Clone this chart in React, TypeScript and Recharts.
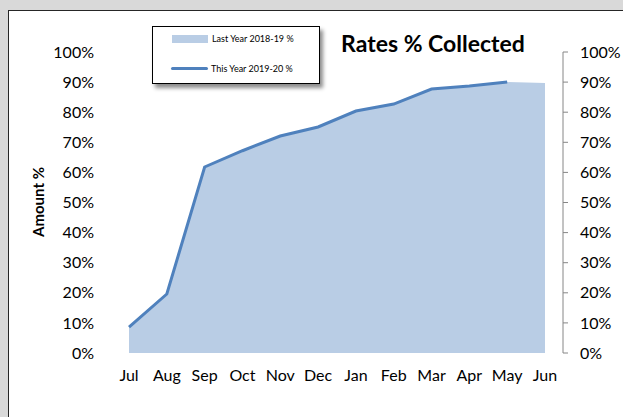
import React from 'react';
import { ComposedChart, Area, Line, XAxis, YAxis } from 'recharts';

const months = ['Jul', 'Aug', 'Sep', 'Oct', 'Nov', 'Dec', 'Jan', 'Feb', 'Mar', 'Apr', 'May', 'Jun'];
const lastYear = [8.4, 19.4, 61.6, 67.0, 71.9, 74.9, 80.2, 82.5, 87.5, 88.5, 90.0, 89.7];
const thisYear: (number | null)[] = [8.6, 19.6, 61.8, 67.2, 72.1, 75.1, 80.4, 82.7, 87.7, 88.7, 90.0, null];
const yTicks = [0, 10, 20, 30, 40, 50, 60, 70, 80, 90, 100];

const LAST_NAME = 'Last Year 2018-19 %';
const THIS_NAME = 'This Year 2019-20 %';
const AREA_FILL = '#b9cde5';
const LINE_COLOR = '#4f81bd';
const FONT = 'Lato, "Liberation Sans", sans-serif';

const data = months.map((m, i) => ({ month: m, last: lastYear[i], current: thisYear[i] }));

const pct = (v: number) => `${v}%`;

const LegendBox = () => (
  <div
    style={{
      position: 'absolute',
      left: 152,
      top: 26,
      width: 166,
      height: 56,
      border: '1px solid #000',
      background: '#fff',
      boxShadow: '3px 4px 4px rgba(0,0,0,0.45)',
      fontFamily: FONT,
      fontSize: 9,
      color: '#000',
      zIndex: 2,
    }}
  >
    <div style={{ position: 'absolute', left: 19, top: 6, display: 'flex', alignItems: 'center' }}>
      <span style={{ display: 'inline-block', width: 36, height: 8, background: AREA_FILL, marginRight: 4 }} />
      <span>{LAST_NAME}</span>
    </div>
    <div style={{ position: 'absolute', left: 18, top: 36, display: 'flex', alignItems: 'center' }}>
      <span style={{ display: 'inline-block', width: 37, height: 3, background: LINE_COLOR, borderRadius: 2, marginRight: 3 }} />
      <span>{THIS_NAME}</span>
    </div>
  </div>
);

export default function App() {
  return (
    <div style={{ position: 'absolute', left: 0, top: 0, width: 623, height: 417, background: '#d9d9d9', overflow: 'hidden' }}>
      <div style={{ position: 'absolute', left: 8, top: 10, width: 700, height: 480, background: '#fff', border: '1.5px solid #262626' }} />
      <div
        style={{
          position: 'absolute',
          left: 300,
          width: 266,
          top: 28,
          textAlign: 'center',
          fontFamily: FONT,
          fontWeight: 'bold',
          fontSize: 23,
          color: '#000',
          lineHeight: '30px',
          zIndex: 2,
        }}
      >
        Rates % Collected
      </div>
      <div style={{ position: 'absolute', left: 0, top: 0, zIndex: 1 }}>
        <ComposedChart width={623} height={417} data={data} margin={{ top: 52, right: 10, bottom: 34, left: 0 }}>
          <XAxis
            dataKey="month"
            scale="point"
            padding={{ left: 0, right: 18 }}
            axisLine={false}
            tickLine={false}
            tickSize={0}
            tickMargin={17}
            height={30}
            interval={0}
            tick={{ fill: '#000', fontSize: 16, fontFamily: FONT }}
          />
          <YAxis
            yAxisId="left"
            orientation="left"
            domain={[0, 100]}
            ticks={yTicks}
            tickFormatter={pct}
            width={129}
            axisLine={false}
            tickLine={false}
            tickSize={0}
            tickMargin={35}
            tick={{ fill: '#000', fontSize: 16, fontFamily: FONT }}
            label={{
              content: () => (
                <text
                  x={38}
                  y={202}
                  transform="rotate(-90, 38, 202)"
                  textAnchor="middle"
                  dominantBaseline="central"
                  fontFamily={FONT}
                  fontWeight="bold"
                  fontSize={15}
                  fill="#000"
                >
                  Amount %
                </text>
              ),
            }}
          />
          <YAxis
            yAxisId="right"
            orientation="right"
            domain={[0, 100]}
            ticks={yTicks}
            tickFormatter={pct}
            width={50}
            axisLine={{ stroke: '#868686', strokeWidth: 1 }}
            tickLine={{ stroke: '#868686', strokeWidth: 1 }}
            tickSize={5}
            tickMargin={12}
            tick={{ fill: '#000', fontSize: 16, fontFamily: FONT, textAnchor: 'start' }}
          />
          <Area
            yAxisId="right"
            type="linear"
            dataKey="last"
            name={LAST_NAME}
            fill={AREA_FILL}
            fillOpacity={1}
            stroke="none"
            isAnimationActive={false}
            dot={false}
            activeDot={false}
          />
          <Line
            yAxisId="left"
            type="linear"
            dataKey="current"
            name={THIS_NAME}
            stroke={LINE_COLOR}
            strokeWidth={3}
            dot={false}
            activeDot={false}
            isAnimationActive={false}
          />
        </ComposedChart>
      </div>
      <LegendBox />
    </div>
  );
}
